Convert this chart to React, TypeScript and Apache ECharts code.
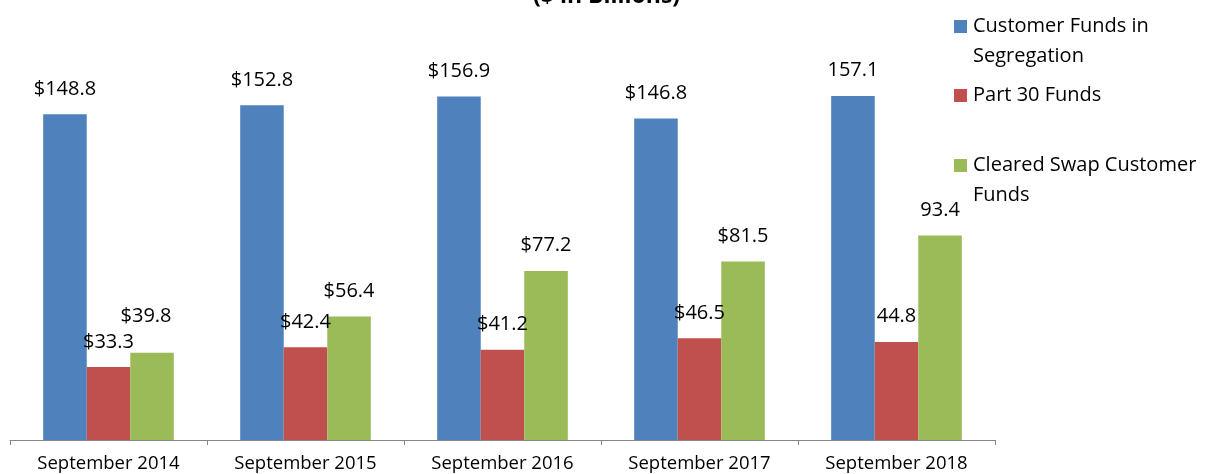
import React, { useEffect, useRef } from "react";
import * as echarts from "echarts";

const categories = ["September 2014", "September 2015", "September 2016", "September 2017", "September 2018"];
const segregation = [148.8, 152.8, 156.9, 146.8, 157.1];
const part30 = [33.3, 42.4, 41.2, 46.5, 44.8];
const clearedSwap = [39.8, 56.4, 77.2, 81.5, 93.4];
const segregationLabels = ["$148.8", "$152.8", "$156.9", "$146.8", "157.1"];
const part30Labels = ["$33.3", "$42.4", "$41.2", "$46.5", "44.8"];
const clearedSwapLabels = ["$39.8", "$56.4", "$77.2", "$81.5", "93.4"];
const seriesNames = ["Customer Funds in Segregation", "Part 30 Funds", "Cleared Swap Customer Funds"];
const legendLines = [["Customer Funds in", "Segregation"], ["Part 30 Funds"], ["Cleared Swap Customer", "Funds"]];
const colors = ["#4F81BD", "#C0504D", "#9BBB59"];

const FONT = "'Open Sans', sans-serif";

export default function App() {
  const ref = useRef<HTMLDivElement>(null);
  useEffect(() => {
    if (!ref.current) return;
    const chart = echarts.init(ref.current, null, { renderer: "svg" });
    const labelBase = {
      show: true,
      position: "top" as const,
      distance: 17,
      color: "#000",
      fontFamily: FONT,
      fontSize: 20,
    };
    const legendTops = [9, 78, 148];
    const graphic: any[] = [];
    legendLines.forEach((lines, i) => {
      graphic.push({
        type: "rect",
        left: 954,
        top: legendTops[i] + 11,
        shape: { width: 13, height: 13 },
        style: { fill: colors[i] },
      });
      graphic.push({
        type: "text",
        left: 973,
        top: legendTops[i],
        style: {
          text: lines.join("\n"),
          fill: "#000",
          font: `20px ${FONT}`,
          lineHeight: 30,
        },
      });
    });
    graphic.push({
      type: "text",
      left: 533,
      top: -18,
      style: {
        text: "($ in Billions)",
        fill: "#000",
        font: `bold 23px ${FONT}`,
      },
    });
    chart.setOption({
      animation: false,
      grid: { left: 10, right: 212, top: 2, bottom: 34, containLabel: false },
      xAxis: {
        type: "category",
        data: categories,
        axisLine: { lineStyle: { color: "#868686", width: 1 } },
        axisTick: { show: true, length: 5, lineStyle: { color: "#868686" } },
        axisLabel: { color: "#000", fontFamily: FONT, fontSize: 18.5, margin: 12 },
      },
      yAxis: {
        type: "value",
        min: 0,
        max: 200,
        show: false,
        splitLine: { show: false },
      },
      graphic,
      series: [
        {
          name: seriesNames[0],
          type: "bar",
          data: segregation,
          barGap: "0%",
          barCategoryGap: "33.7%",
          itemStyle: { color: colors[0] },
          label: { ...labelBase, formatter: (p: any) => segregationLabels[p.dataIndex] },
        },
        {
          name: seriesNames[1],
          type: "bar",
          data: part30,
          barGap: "0%",
          barCategoryGap: "33.7%",
          itemStyle: { color: colors[1] },
          label: { ...labelBase, formatter: (p: any) => part30Labels[p.dataIndex] },
        },
        {
          name: seriesNames[2],
          type: "bar",
          data: clearedSwap.map((v, i) => (i === 0 ? { value: v, label: { offset: [-6, -11] } } : v)),
          barGap: "0%",
          barCategoryGap: "33.7%",
          itemStyle: { color: colors[2] },
          label: { ...labelBase, formatter: (p: any) => clearedSwapLabels[p.dataIndex] },
        },
      ],
    });
    return () => chart.dispose();
  }, []);
  return <div ref={ref} style={{ position: "fixed", left: 0, top: 0, width: 1207, height: 474 }} />;
}
